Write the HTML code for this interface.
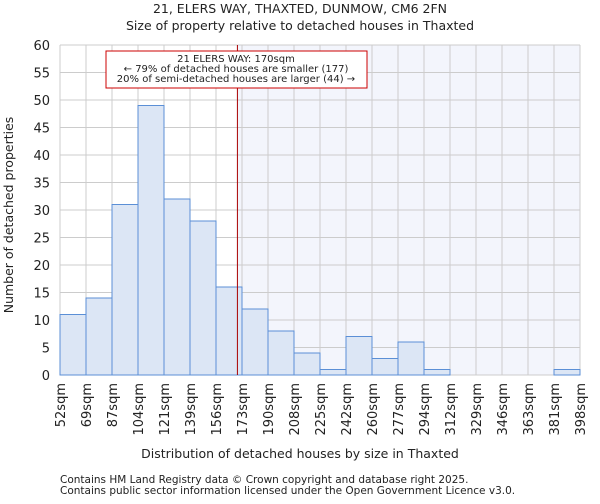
<!DOCTYPE html>
<html><head><meta charset="utf-8"><style>
body{margin:0;background:#fff;font-family:"DejaVu Sans","Liberation Sans",sans-serif;}
svg text{font-family:"DejaVu Sans","Liberation Sans",sans-serif;fill:#222;}
</style></head><body>
<svg id="c" width="600" height="500" viewBox="0 0 600 500">
<text x="300" y="13" text-anchor="middle" font-size="12.5">21, ELERS WAY, THAXTED, DUNMOW, CM6 2FN</text>
<text x="300" y="30" text-anchor="middle" font-size="12.5">Size of property relative to detached houses in Thaxted</text>
<text x="300" y="458" text-anchor="middle" font-size="12.5">Distribution of detached houses by size in Thaxted</text>
<text transform="translate(13,215) rotate(-90)" text-anchor="middle" font-size="12.5">Number of detached properties</text>
<text x="60" y="483" font-size="10.5" fill="#333">Contains HM Land Registry data © Crown copyright and database right 2025.</text>
<text x="60" y="494" font-size="10.5" fill="#333">Contains public sector information licensed under the Open Government Licence v3.0.</text>
</svg>
<script>
const categories=["52sqm","69sqm","87sqm","104sqm","121sqm","139sqm","156sqm","173sqm","190sqm","208sqm","225sqm","242sqm","260sqm","277sqm","294sqm","312sqm","329sqm","346sqm","363sqm","381sqm","398sqm"];
const counts=[11,14,31,49,32,28,16,12,8,4,1,7,3,6,1,0,0,0,0,1];
const yTicks=[0,5,10,15,20,25,30,35,40,45,50,55,60];
const edges=[52,69,87,104,121,139,156,173,190,208,225,242,260,277,294,312,329,346,363,381,398];
const propertySize=170;
const NS="http://www.w3.org/2000/svg";
const svg=document.getElementById('c');
const L=60,R=580,T=45,B=375,YMAX=60;
const bw=(R-L)/counts.length;
const y=v=>B-(v/YMAX)*(B-T);
const xi=i=>L+i*bw;
function xv(v){for(let i=0;i<edges.length-1;i++){if(v<=edges[i+1])return xi(i)+(v-edges[i])/(edges[i+1]-edges[i])*bw;}return R;}
function mk(t,a){const e=document.createElementNS(NS,t);for(const k in a)e.setAttribute(k,a[k]);svg.appendChild(e);return e;}
const px=xv(propertySize);
let e=mk('rect',{x:px,y:T,width:R-px,height:B-T,fill:'#f3f5fc'});


for(let i=0;i<=counts.length;i++){e=mk('line',{x1:xi(i),x2:xi(i),y1:T,y2:B,stroke:'#ccc','stroke-width':1});

}
yTicks.forEach(t=>{e=mk('line',{x1:L,x2:R,y1:y(t),y2:y(t),stroke:'#ccc','stroke-width':1});


const tx=mk('text',{x:L-10,y:y(t)+5,'text-anchor':'end','font-size':13});tx.textContent=t;

});
counts.forEach((c,i)=>{if(c<=0)return;e=mk('rect',{x:xi(i),y:y(c),width:bw,height:B-y(c),fill:'#dce6f5',stroke:'#5b8fd6','stroke-width':1});

});
categories.forEach((c,i)=>{const tx=mk('text',{transform:`translate(${xi(i)+5},383) rotate(-90)`,'text-anchor':'end','font-size':13});tx.textContent=c;

});
e=mk('line',{x1:px,x2:px,y1:T,y2:B,stroke:'#a00','stroke-width':1});


const g=mk('g',{});


const r=document.createElementNS(NS,'rect');
[['x',106],['y',51],['width',261],['height',37],['fill','#fff'],['stroke','#c00'],['stroke-width',1]].forEach(a=>r.setAttribute(a[0],a[1]));g.appendChild(r);
["21 ELERS WAY: 170sqm","← 79% of detached houses are smaller (177)","20% of semi-detached houses are larger (44) →"].forEach((s,i)=>{const t=document.createElementNS(NS,'text');t.setAttribute('x',236);t.setAttribute('y',62+i*10);t.setAttribute('text-anchor','middle');t.setAttribute('font-size',10);t.textContent=s;g.appendChild(t);});
</script>
</body></html>
